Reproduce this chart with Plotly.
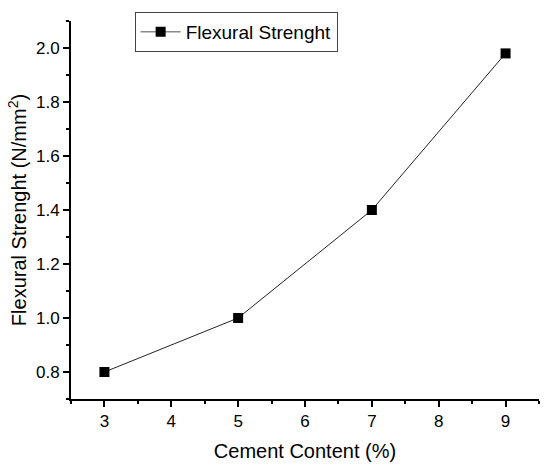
import plotly.graph_objects as go

cement_content = [3, 5, 7, 9]
flexural_strength = [0.8, 1.0, 1.4, 1.98]
series_name = "Flexural Strenght"

FONT = "Liberation Sans, Arial"

fig = go.Figure()
fig.add_trace(go.Scatter(
    x=cement_content, y=flexural_strength, mode="lines+markers",
    line=dict(color="#222222", width=1),
    marker=dict(symbol="square", size=10, color="black"),
    showlegend=False,
))
fig.add_trace(go.Scatter(
    x=[None], y=[None], mode="lines+markers", name=series_name,
    line=dict(color="#8a8a8a", width=1.5),
    marker=dict(symbol="square", size=10, color="black"),
))

axis_common = dict(
    showline=True, linecolor="black", linewidth=2,
    ticks="outside", ticklen=6, tickwidth=2, tickcolor="black",
    showgrid=False, zeroline=False, mirror=False,
    tickfont=dict(family=FONT, size=17, color="black"),
)
fig.update_xaxes(
    range=[2.5, 9.5], tickvals=[3, 4, 5, 6, 7, 8, 9],
    minor=dict(ticks="outside", ticklen=3, tickwidth=2, tickcolor="black", dtick=0.5, tick0=2.5),
    title=dict(text="Cement Content (%)", font=dict(family=FONT, size=20, color="black"), standoff=14),
    **axis_common,
)
fig.update_yaxes(
    range=[0.7, 2.1], tickvals=[0.8, 1.0, 1.2, 1.4, 1.6, 1.8, 2.0], tickformat=".1f",
    minor=dict(ticks="outside", ticklen=3, tickwidth=2, tickcolor="black", dtick=0.1, tick0=0.7),
    title=dict(text="Flexural Strenght (N/mm<sup>2</sup>)", font=dict(family=FONT, size=20, color="black"), standoff=4),
    **axis_common,
)
fig.update_layout(
    width=550, height=469,
    margin=dict(l=71, r=11, t=21, b=70),
    paper_bgcolor="white", plot_bgcolor="white",
    legend=dict(
        x=0.136, y=1.024, xanchor="left", yanchor="top",
        bordercolor="#444444", borderwidth=1, bgcolor="white",
        font=dict(family=FONT, size=19, color="black"),
        itemwidth=40, tracegroupgap=0,
    ),
)
fig.write_html("out.html", config={"displayModeBar": False},
               post_script="document.body.style.margin='0';")
